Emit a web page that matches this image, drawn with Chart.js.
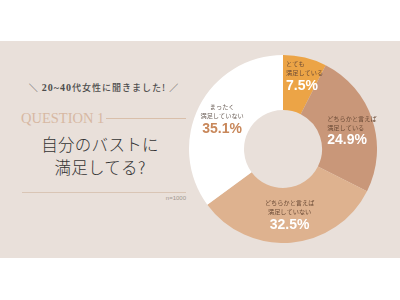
<!DOCTYPE html>
<html>
<head>
<meta charset="utf-8">
<script src="https://cdn.jsdelivr.net/npm/chart.js@4"></script>
<style>
  html, body { margin: 0; padding: 0; background: #ffffff; }
  #root { position: relative; width: 400px; height: 300px; overflow: hidden; background: #ffffff; }
  #panel { position: absolute; left: 0; top: 41px; width: 400px; height: 217px; background: #E9E0DA; }
  .t { position: absolute; white-space: nowrap; }
  #sub { left: 0; width: 208px; top: 82px; text-align: center; font-family: "Noto Sans CJK JP", sans-serif; font-size: 9px; line-height: 12px; letter-spacing: 1px; color: #4d4d4d; font-weight: 500; }
  #sub .n { font-family: "Liberation Serif", serif; font-weight: bold; font-size: 10px; }
  #q { left: 21px; top: 110px; font-family: "Liberation Serif", serif; font-size: 14.5px; line-height: 16px; color: #D7B8A3; letter-spacing: 0px; }
  #qline { position: absolute; left: 106px; width: 80px; top: 118px; height: 1px; background: #D9BFAA; }
  #title { left: 0; width: 200px; top: 133px; text-align: center; font-family: "Noto Sans CJK JP", sans-serif; font-weight: 300; font-size: 16.5px; line-height: 23px; color: #333333; letter-spacing: 0.3px; }
  #bline { position: absolute; left: 22px; width: 164px; top: 192px; height: 1px; background: #D9C5B5; }
  #n { right: 214px; top: 195px; font-family: "Liberation Sans", sans-serif; font-size: 6px; line-height: 7px; color: #a09890; }
  #chartBox { position: absolute; left: 189px; top: 55px; width: 188px; height: 188px; }
</style>
</head>
<body>
<div id="root">
  <div id="panel"></div>
  <div class="t" id="sub">＼ <span class="n">20~40</span>代女性に聞きました! ／</div>
  <div class="t" id="q">QUESTION 1</div>
  <div id="qline"></div>
  <div class="t" id="title">自分のバストに<br>満足してる?</div>
  <div id="bline"></div>
  <div class="t" id="n">n=1000</div>
  <div id="chartBox"><canvas id="c" width="188" height="188"></canvas></div>
</div>
<script>
// ---- data ----
const categories = [
  ['とても', '満足している'],
  ['どちらかと言えば', '満足している'],
  ['どちらかと言えば', '満足していない'],
  ['まったく', '満足していない']
];
const values = [7.5, 24.9, 32.5, 35.1];
const valueLabels = ['7.5%', '24.9%', '32.5%', '35.1%'];

// ---- styles ----
const segmentColors = ['#ECA446', '#C99779', '#DEB28F', '#FFFFFF'];
const valueColors = ['#FFFFFF', '#FFFFFF', '#FFFFFF', '#C8875A'];
const labelColors = ['#6B4B36', '#6B4B36', '#6B4B36', '#6E625B'];
const labelLayout = [
  { dx: -12.5, dy: -9.5, align: 'left' },
  { dx: -19, dy: 1, align: 'left' },
  { dx: 1, dy: -1.5, align: 'center' },
  { dx: -1.5, dy: -1, align: 'center' }
];

const labelPlugin = {
  id: 'segLabels',
  afterDatasetsDraw(chart) {
    const ctx = chart.ctx;
    const meta = chart.getDatasetMeta(0);
    meta.data.forEach((arc, i) => {
      const p = arc.getCenterPoint();
      const L = labelLayout[i];
      let x = p.x + L.dx;
      const cy = p.y + L.dy;
      ctx.save();
      ctx.textAlign = L.align;
      ctx.textBaseline = 'middle';
      ctx.fillStyle = labelColors[i];
      ctx.font = '6.2px "Noto Sans CJK JP", sans-serif';
      const lines = chart.data.labels[i];
      ctx.fillText(lines[0], x, cy - 11);
      ctx.fillText(lines[1], x, cy - 2);
      ctx.fillStyle = valueColors[i];
      ctx.font = 'bold 14px "Liberation Sans", Arial, sans-serif';
      ctx.fillText(valueLabels[i], x, cy + 11);
      ctx.restore();
    });
  }
};

new Chart(document.getElementById('c'), {
  type: 'doughnut',
  data: {
    labels: categories,
    datasets: [{
      data: values,
      backgroundColor: segmentColors,
      borderWidth: 0,
      hoverOffset: 0
    }]
  },
  options: {
    responsive: false,
    animation: false,
    cutout: '41.5%',
    rotation: 0,
    layout: { padding: 0 },
    plugins: { legend: { display: false }, tooltip: { enabled: false } }
  },
  plugins: [labelPlugin]
});
</script>
</body>
</html>
